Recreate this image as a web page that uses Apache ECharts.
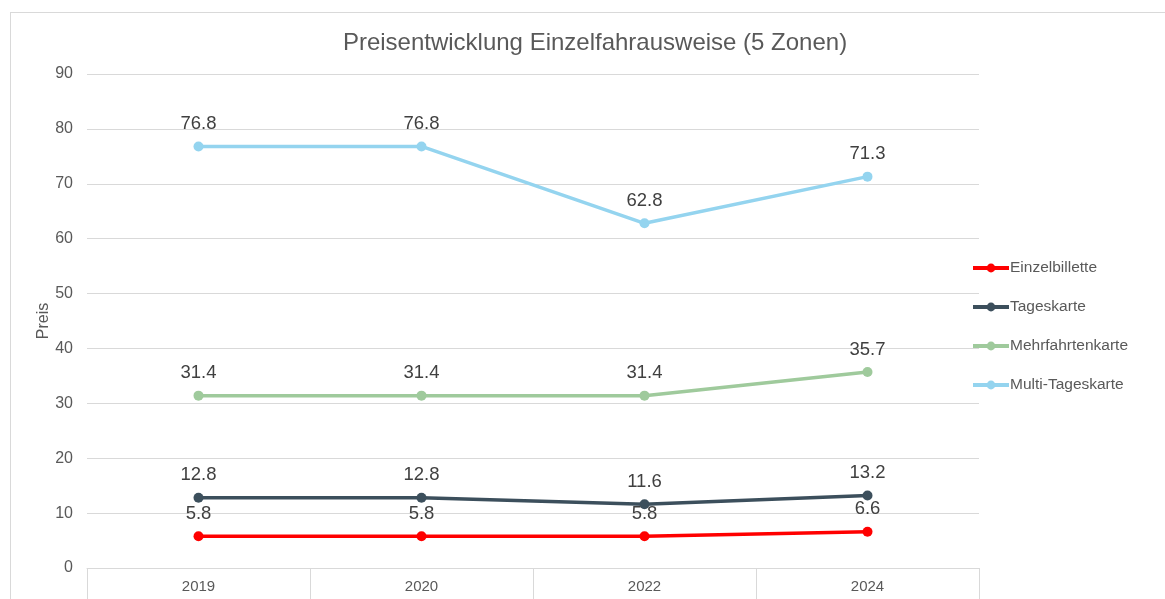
<!DOCTYPE html>
<html>
<head>
<meta charset="utf-8">
<script src="https://cdn.jsdelivr.net/npm/echarts@6/dist/echarts.min.js"></script>
<style>
  html, body { margin: 0; padding: 0; background: #fff; }
  #frame { position: absolute; left: 10px; top: 12px; width: 1200px; height: 700px; border-left: 1px solid #d9d9d9; border-top: 1px solid #d9d9d9; }
  #chart { position: absolute; left: 0; top: 0; width: 1165px; height: 599px; }
</style>
</head>
<body>
<div id="frame"></div>
<div id="chart"></div>
<script>
const years = ['2019', '2020', '2022', '2024'];
const einzelbillette = [5.8, 5.8, 5.8, 6.6];
const tageskarte = [12.8, 12.8, 11.6, 13.2];
const mehrfahrtenkarte = [31.4, 31.4, 31.4, 35.7];
const multiTageskarte = [76.8, 76.8, 62.8, 71.3];

const font = '"Liberation Sans", Arial, sans-serif';

function line(name, data, color) {
    return {
        name: name,
        type: 'line',
        data: data,
        symbol: 'circle',
        symbolSize: 10,
        lineStyle: { width: 3.5, color: color },
        itemStyle: { color: color },
        label: {
            show: true,
            position: 'top',
            distance: 8,
            fontSize: 18.5,
            color: '#404040',
            fontFamily: font
        }
    };
}

let myChart = echarts.init(document.getElementById('chart'));

var option = {
    animation: false,
    title: {
        text: 'Preisentwicklung Einzelfahrausweise (5 Zonen)',
        left: 590,
        textAlign: 'center',
        top: 26,
        textStyle: { fontSize: 24, fontWeight: 'normal', color: '#595959', fontFamily: font }
    },
    legend: {
        orient: 'vertical',
        left: 966,
        top: 255,
        itemGap: 23,
        itemWidth: 36,
        itemHeight: 11,
        lineStyle: { width: 4 },
        textStyle: { fontSize: 15.5, color: '#595959', fontFamily: font, padding: [0, 0, 0, -4] },
        data: ['Einzelbillette', 'Tageskarte', 'Mehrfahrtenkarte', 'Multi-Tageskarte']
    },
    grid: { left: 87, right: 186, top: 74, bottom: 31 },
    xAxis: {
        type: 'category',
        data: years,
        boundaryGap: true,
        axisLine: { lineStyle: { color: '#d9d9d9', width: 1 } },
        axisTick: { show: true, interval: 0, length: 31, lineStyle: { color: '#d9d9d9' } },
        axisLabel: { fontSize: 15, color: '#595959', fontFamily: font, margin: 11 }
    },
    yAxis: {
        type: 'value',
        min: 0,
        max: 90,
        interval: 10,
        name: 'Preis',
        nameLocation: 'middle',
        nameGap: 35,
        nameMoveOverlap: false,
        nameRotate: 90,
        nameTextStyle: { fontSize: 16, color: '#595959', fontFamily: font },
        axisLine: { show: false },
        axisTick: { show: false },
        axisLabel: { fontSize: 16, color: '#595959', fontFamily: font, margin: 14 },
        splitLine: { lineStyle: { color: '#d9d9d9', width: 1 } }
    },
    series: [
        line('Einzelbillette', einzelbillette, '#ff0000'),
        line('Tageskarte', tageskarte, '#3c4f5c'),
        line('Mehrfahrtenkarte', mehrfahrtenkarte, '#9fca9c'),
        line('Multi-Tageskarte', multiTageskarte, '#94d4ef')
    ]
};

myChart.setOption(option);

window.addEventListener('resize', () => {
    myChart.resize();
});
</script>
</body>
</html>
